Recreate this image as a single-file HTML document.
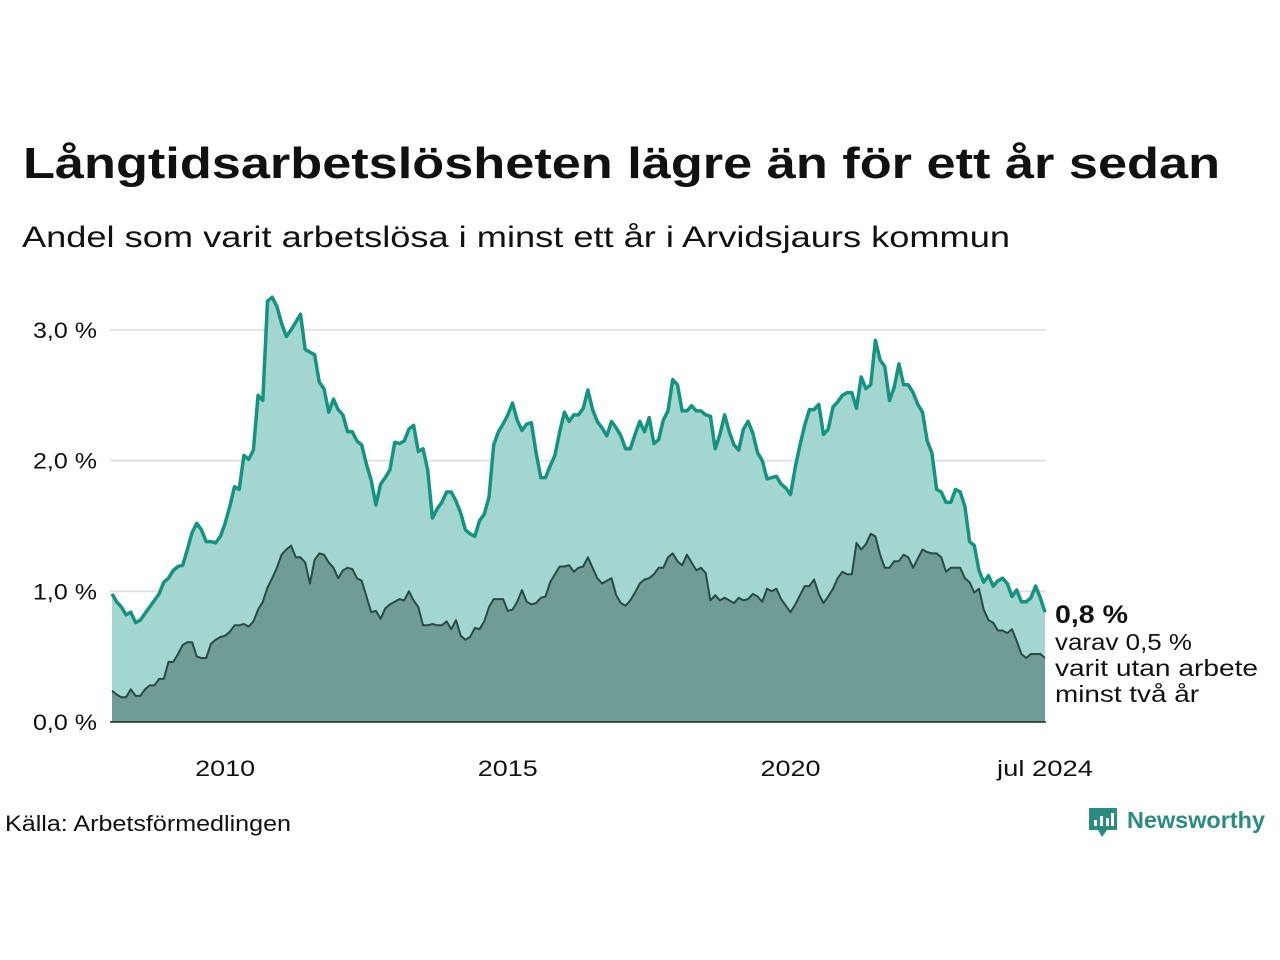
<!DOCTYPE html>
<html><head><meta charset="utf-8"><style>
html,body{margin:0;padding:0;background:#fff;}
svg{display:block;font-family:"Liberation Sans",sans-serif;}
</style></head><body>
<svg id="chart" width="1280" height="960" viewBox="0 0 1280 960">
<text x="23" y="178" font-size="44" font-weight="bold" fill="#111" textLength="1197" lengthAdjust="spacingAndGlyphs">Långtidsarbetslösheten lägre än för ett år sedan</text>
<text x="22" y="247" font-size="30" fill="#111" textLength="988" lengthAdjust="spacingAndGlyphs">Andel som varit arbetslösa i minst ett år i Arvidsjaurs kommun</text>
<g id="grid"></g>
<g id="areas"></g>
<g id="yticks"></g>
<g id="xticks"></g>
<text x="1055" y="623" font-size="25" font-weight="bold" fill="#111" textLength="73" lengthAdjust="spacingAndGlyphs">0,8 %</text>
<text x="1055" y="650" font-size="23" fill="#111" textLength="137" lengthAdjust="spacingAndGlyphs">varav 0,5 %</text>
<text x="1055" y="676" font-size="23" fill="#111" textLength="203" lengthAdjust="spacingAndGlyphs">varit utan arbete</text>
<text x="1055" y="702" font-size="23" fill="#111" textLength="144" lengthAdjust="spacingAndGlyphs">minst två år</text>
<text x="5" y="831" font-size="22" fill="#111" textLength="286" lengthAdjust="spacingAndGlyphs">Källa: Arbetsförmedlingen</text>
<g>
<path d="M1089 808 h28 v22 h-10 l-5 7 l-4 -7 h-9 z" fill="#2a8c7e"/>
<rect x="1094" y="820" width="3" height="6" fill="#fff"/><rect x="1100" y="816" width="3" height="10" fill="#fff"/><rect x="1106" y="818" width="3" height="8" fill="#fff"/><rect x="1111" y="813" width="3" height="13" fill="#fff"/>
<text x="1127" y="828" font-size="23" font-weight="bold" fill="#2a8c7e" textLength="138" lengthAdjust="spacingAndGlyphs">Newsworthy</text>
</g>
</svg>
<script>
const yTicks=[0,1,2,3];
const yTickLabels=["0,0 %","1,0 %","2,0 %","3,0 %"];
const xTickDates=[2010,2015,2020,2024.5];
const xTickLabels=["2010","2015","2020","jul 2024"];
const startYear=2008;
const totalRate=[
0.98,0.92,0.88,0.82,0.84,0.76,0.78,0.83,0.88,0.93,0.98,1.07,
1.10,1.16,1.19,1.20,1.32,1.45,1.52,1.47,1.38,1.38,1.37,1.42,
1.52,1.65,1.80,1.78,2.04,2.01,2.08,2.50,2.46,3.22,3.25,3.18,
3.05,2.95,3.00,3.06,3.12,2.85,2.83,2.81,2.60,2.55,2.37,2.47,
2.39,2.35,2.22,2.22,2.15,2.12,1.97,1.85,1.66,1.82,1.87,1.93,
2.14,2.13,2.15,2.24,2.27,2.07,2.09,1.93,1.56,1.63,1.68,1.76,
1.76,1.69,1.60,1.47,1.44,1.42,1.54,1.59,1.72,2.12,2.22,2.28,
2.35,2.44,2.31,2.23,2.28,2.29,2.06,1.87,1.87,1.96,2.04,2.22,
2.37,2.30,2.35,2.35,2.40,2.54,2.39,2.30,2.25,2.19,2.30,2.25,
2.19,2.09,2.09,2.20,2.30,2.22,2.33,2.13,2.16,2.31,2.38,2.62,
2.58,2.38,2.38,2.42,2.38,2.38,2.35,2.34,2.09,2.20,2.35,2.22,
2.12,2.08,2.24,2.30,2.21,2.06,2.00,1.86,1.87,1.88,1.82,1.79,
1.74,1.95,2.12,2.27,2.39,2.39,2.43,2.20,2.24,2.41,2.45,2.50,
2.52,2.52,2.40,2.64,2.55,2.58,2.92,2.77,2.72,2.46,2.56,2.74,
2.58,2.58,2.52,2.43,2.37,2.15,2.06,1.78,1.76,1.68,1.68,1.78,
1.76,1.65,1.38,1.35,1.16,1.07,1.12,1.04,1.08,1.10,1.06,0.96,
1.01,0.92,0.92,0.95,1.04,0.95,0.84];
const twoYearRate=[
0.24,0.21,0.19,0.19,0.25,0.20,0.20,0.25,0.28,0.28,0.33,0.33,
0.46,0.46,0.52,0.59,0.61,0.61,0.50,0.49,0.49,0.60,0.63,0.65,
0.66,0.69,0.74,0.74,0.75,0.73,0.77,0.86,0.92,1.03,1.10,1.18,
1.28,1.32,1.35,1.26,1.26,1.22,1.06,1.24,1.29,1.28,1.22,1.18,
1.10,1.16,1.18,1.17,1.10,1.08,0.96,0.84,0.85,0.79,0.87,0.90,
0.92,0.94,0.93,1.00,0.93,0.88,0.74,0.74,0.75,0.74,0.74,0.77,
0.71,0.78,0.66,0.63,0.65,0.72,0.71,0.77,0.88,0.94,0.94,0.94,
0.85,0.86,0.92,1.01,0.92,0.90,0.91,0.95,0.96,1.07,1.13,1.19,
1.19,1.20,1.15,1.18,1.19,1.26,1.18,1.10,1.06,1.08,1.10,0.97,
0.91,0.89,0.93,0.99,1.06,1.09,1.10,1.13,1.18,1.18,1.26,1.29,
1.23,1.20,1.28,1.22,1.16,1.18,1.14,0.93,0.97,0.93,0.95,0.93,
0.91,0.95,0.93,0.94,0.98,0.96,0.92,1.02,1.00,1.02,0.94,0.89,
0.84,0.90,0.97,1.04,1.04,1.09,0.98,0.91,0.96,1.02,1.10,1.15,
1.13,1.13,1.37,1.32,1.36,1.44,1.42,1.28,1.18,1.18,1.23,1.23,
1.28,1.26,1.18,1.25,1.32,1.30,1.29,1.29,1.26,1.15,1.18,1.18,
1.18,1.10,1.07,0.99,1.02,0.86,0.78,0.76,0.70,0.70,0.68,0.71,
0.62,0.52,0.49,0.52,0.52,0.52,0.49];

const NS="http://www.w3.org/2000/svg";
const X0=112,X1=1045,Y0=722,PXPER=130.7;
const n=totalRate.length;
const xIdx=i=>X0+(X1-X0)*i/(n-1);
const xYear=y=>X0+(y-startYear)/((n-1)/12)*(X1-X0);
const yv=v=>Y0-v*PXPER;
function mk(tag,parent){const e=document.createElementNS(NS,tag);parent.appendChild(e);return e;}
const grid=document.getElementById('grid'),yt=document.getElementById('yticks'),xt=document.getElementById('xticks'),areas=document.getElementById('areas');
yTicks.forEach((t,i)=>{
  if(t>0){const l=mk('line',grid);
  
  
  l.setAttribute('x1',110);l.setAttribute('x2',1046);l.setAttribute('y1',yv(t));l.setAttribute('y2',yv(t));l.setAttribute('stroke','#e2e2e6');l.setAttribute('stroke-width',2);}
  const tx=mk('text',yt);
  
  
  tx.setAttribute('x',97);tx.setAttribute('y',yv(t)+8);tx.setAttribute('text-anchor','end');tx.setAttribute('font-size',22);tx.setAttribute('fill','#111');
  tx.setAttribute('textLength',64);tx.setAttribute('lengthAdjust','spacingAndGlyphs');
  tx.textContent=yTickLabels[i];
});
xTickDates.forEach((d,i)=>{
  const tx=mk('text',xt);
  
  
  tx.setAttribute('x',xYear(d));tx.setAttribute('y',776);tx.setAttribute('text-anchor','middle');tx.setAttribute('font-size',22);tx.setAttribute('fill','#111');
  tx.setAttribute('textLength',xTickLabels[i].length>4?96:60);tx.setAttribute('lengthAdjust','spacingAndGlyphs');
  tx.textContent=xTickLabels[i];
});
function linePts(arr){return arr.map((v,i)=>xIdx(i).toFixed(1)+','+yv(v).toFixed(1)).join(' L');}
function area(arr,fill,stroke,sw,name){
  const a=mk('path',areas);
  
  
  a.setAttribute('d','M'+xIdx(0)+','+Y0+' L'+linePts(arr)+' L'+xIdx(arr.length-1)+','+Y0+' Z');a.setAttribute('fill',fill);
  const l=mk('path',areas);
  
  
  l.setAttribute('d','M'+linePts(arr));l.setAttribute('fill','none');l.setAttribute('stroke',stroke);l.setAttribute('stroke-width',sw);l.setAttribute('stroke-linejoin','round');
}
area(totalRate,'#a3d6d0','#16937f',3.5,'total-unemployed');
area(twoYearRate,'#6f9d96','#264b45',2,'two-year-unemployed');
const b=mk('line',areas);


b.setAttribute('x1',110);b.setAttribute('x2',1046);b.setAttribute('y1',Y0);b.setAttribute('y2',Y0);b.setAttribute('stroke','#222');b.setAttribute('stroke-width',1.5);
</script>
</body></html>
